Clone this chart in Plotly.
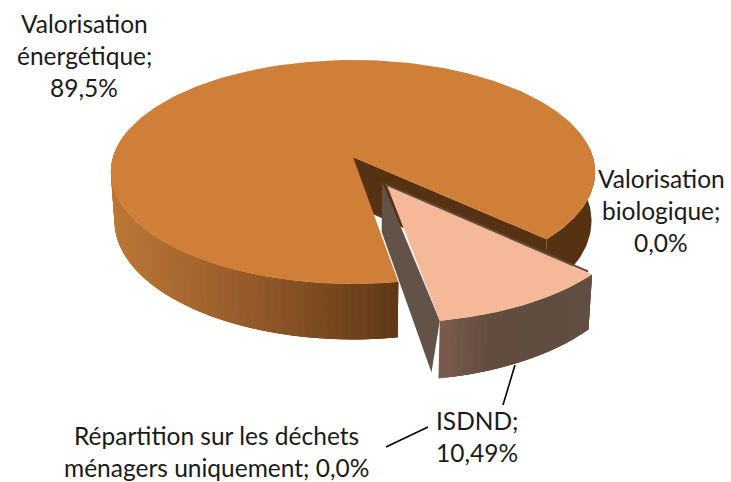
import math
import plotly.graph_objects as go

# --- data ---
categories = ["Valorisation énergétique", "ISDND", "Répartition sur les déchets ménagers uniquement", "Valorisation biologique"]
values = [89.5, 10.49, 0.0, 0.0]
label_lines = [
    ["Valorisation", "énergétique;", "89,5%"],
    ["ISDND;", "10,49%"],
    ["Répartition sur les déchets", "ménagers uniquement; 0,0%"],
    ["Valorisation", "biologique;", "0,0%"],
]

# --- layout / projection of the 3-D pie (pixel space) ---
W, H = 731, 482
CX, CY, RX, RY, K, DEPTH = 353, 157, 240, 110, 0.134, 48
SHRINK = 0.015          # the underside is a little smaller than the top
EDGE_ANGLE = -42.8      # where the exploded slice begins (degrees)
EXPLODE = 0.29
TOP_MAIN, TOP_SLICE = "#D07F38", "#F5B99A"
WALL_DARK = "#563213"
SLICE_WALL = "#625248"
SLICE_RIM = "#624C3E"
WALL_SHIFT_TOP = (-5, -4)
WALL_SHIFT_BOTTOM = (-7, -6)


def proj(a, b, drop=0.0):
    w = 1 + K * b
    return CX + RX * a / w * (1 - SHRINK * drop), CY - RY * b / w + drop * DEPTH / w


def lerp_hex(stops, t):
    t = max(0, min(1, t))
    for (p0, c0), (p1, c1) in zip(stops, stops[1:]):
        if t <= p1:
            f = (t - p0) / (p1 - p0)
            rgb = [round(int(c0[i:i+2], 16) * (1 - f) + int(c1[i:i+2], 16) * f) for i in (1, 3, 5)]
            return "#%02X%02X%02X" % tuple(rgb)
    return stops[-1][1]


fig = go.Figure()


def poly(pts, color, line=None, lw=0.0):
    xs = [p[0] for p in pts] + [pts[0][0]]
    ys = [p[1] for p in pts] + [pts[0][1]]
    fig.add_trace(go.Scatter(x=xs, y=ys, mode="lines", fill="toself", fillcolor=color,
                             line=dict(color=line or color, width=lw), hoverinfo="skip", showlegend=False))


def arc(t0, t1, off=(0, 0), drop=0.0, n=60):
    out = []
    for i in range(n + 1):
        t = math.radians(t0 + (t1 - t0) * i / n)
        out.append(proj(off[0] + math.cos(t), off[1] + math.sin(t), drop))
    return out


def side(t0, t1, off, n, color_at):
    # overlapping bands painted in order, so no seams show
    step = (t1 - t0) / n
    for i in range(n):
        ta = t0 + step * i
        tb = t0 + step * (i + 1)
        te = t0 + step * min(i + 3, n)
        top = arc(ta, te, off, 0, 6)
        bot = arc(ta, te, off, 1, 6)
        xa = arc(ta, tb, off, 0, 1)
        poly(top + bot[::-1], color_at((xa[0][0] + xa[1][0]) / 2))


def shifted(p, s):
    return p[0] + s[0], p[1] + s[1]


total = sum(values)
sweep_main = 360 * values[0] / total
sweep_slice = 360 * values[1] / total
main_start = EDGE_ANGLE                 # counter-clockwise round the back
main_end = EDGE_ANGLE + sweep_main
slice_start, slice_end = EDGE_ANGLE - sweep_slice, EDGE_ANGLE
mid = math.radians((slice_start + slice_end) / 2)
off = (EXPLODE * math.cos(mid), EXPLODE * math.sin(mid))

# main slice: dark inner wall and right-hand outer side
ea = math.radians(main_start)
edge = (math.cos(ea), math.sin(ea))
poly([proj(0, 0), proj(0, 0, 1), proj(*edge, 1), proj(*edge)], WALL_DARK)
poly(arc(main_start, 5, n=40) + arc(main_start, 5, drop=1, n=40)[::-1], WALL_DARK)
# main slice: front side with horizontal gradient
front = [(0, "#BC7736"), (0.5, "#94592A"), (1, "#5F3916")]
side(165, main_end, (0, 0), 70, lambda x: lerp_hex(front, (x - 113) / (397 - 113)))
# main slice: top
poly([proj(0, 0)] + arc(main_start, main_end, n=240), TOP_MAIN)

# exploded slice: inner wall, rim, outer side, top
sb = math.radians(slice_start)
se = math.radians(slice_end)
inner = (off[0] + math.cos(sb), off[1] + math.sin(sb))
outer = (off[0] + math.cos(se), off[1] + math.sin(se))
poly([shifted(proj(*off), WALL_SHIFT_TOP), shifted(proj(*off, 1), WALL_SHIFT_TOP),
      shifted(proj(*inner, 1), WALL_SHIFT_BOTTOM), proj(*inner)], SLICE_WALL)
rim_a, rim_b = shifted(proj(*off), (-2, -2)), shifted(proj(*outer), (-4, -3))
fig.add_trace(go.Scatter(x=[rim_a[0], rim_b[0]], y=[rim_a[1], rim_b[1]], mode="lines",
                         line=dict(color=SLICE_RIM, width=2), hoverinfo="skip", showlegend=False))
s_front = [(0, "#7B5D4E"), (0.35, "#624C3E"), (1, "#604E40")]
side(slice_start, slice_end, off, 30, lambda x: lerp_hex(s_front, (x - 438) / (595 - 438)))
poly([proj(*off)] + arc(slice_start, slice_end, off, 0, 60), TOP_SLICE)

# leader lines
leaders = [((515, 365), (503, 405)), ((428, 427), (386, 447))]
for p, q in leaders:
    fig.add_trace(go.Scatter(x=[p[0], q[0]], y=[p[1], q[1]], mode="lines",
                             line=dict(color="#000000", width=1.6), hoverinfo="skip", showlegend=False))

# labels: centre x and first-line y for each label
label_pos = [(84, 23), (477, 420), (216, 435), (661, 178)]
LINE_H = 32
FONT = dict(family="Lato, Carlito, Calibri, sans-serif", size=24.5, color="#1a1a1a")
for lines, (lx, ly) in zip(label_lines, label_pos):
    for i, line in enumerate(lines):
        fig.add_annotation(x=lx, y=ly + i * LINE_H, text=line, showarrow=False, font=FONT,
                           xanchor="center", yanchor="middle", xref="x", yref="y")

fig.update_layout(
    width=W, height=H, margin=dict(l=0, r=0, t=0, b=0), showlegend=False,
    paper_bgcolor="white", plot_bgcolor="white",
    xaxis=dict(range=[0, W], visible=False, fixedrange=True),
    yaxis=dict(range=[H, 0], visible=False, fixedrange=True),
)
fig.write_html("out.html", config=dict(displayModeBar=False),
               post_script="document.body.style.margin='0';document.documentElement.style.overflow='hidden';")
